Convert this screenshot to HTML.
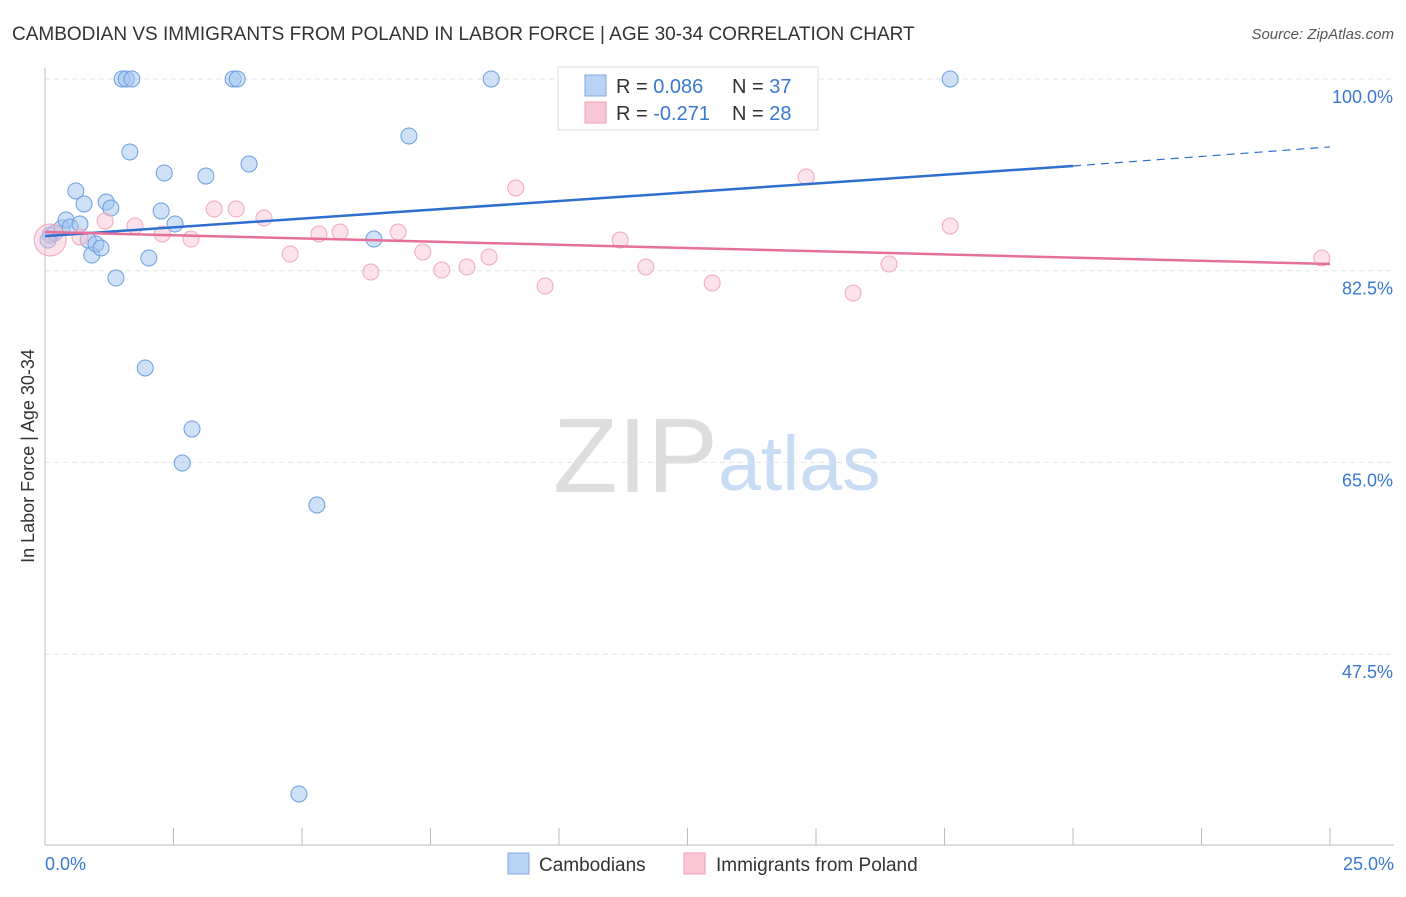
<!DOCTYPE html>
<html><head><meta charset="utf-8"><style>
body{margin:0;background:#fff;font-family:"Liberation Sans",sans-serif;}
svg text{font-family:"Liberation Sans",sans-serif;}
</style></head><body>
<svg id="c" width="1406" height="892" xmlns="http://www.w3.org/2000/svg">
<text x="12" y="40" font-size="19" fill="#333">CAMBODIAN VS IMMIGRANTS FROM POLAND IN LABOR FORCE | AGE 30-34 CORRELATION CHART</text>
<text x="1394" y="39" font-size="15" fill="#555" font-style="italic" text-anchor="end">Source: ZipAtlas.com</text>
<text x="34" y="456" font-size="18" fill="#333" text-anchor="middle" transform="rotate(-90 34 456)">In Labor Force | Age 30-34</text>
<text x="553" y="492" font-size="106" fill="#ddd" font-family="Liberation Serif">ZIP</text>
<text x="718" y="490" font-size="77" fill="#c8dcf3">atlas</text>
<g id="grid"></g><g id="axes"></g><g id="pts"></g><g id="trend"></g>
<g>
<rect x="558" y="67" width="260" height="63" fill="#fff" stroke="#ddd"/>
<rect x="585" y="75" width="21" height="21" fill="#b8d3f3" stroke="#7fa8df"/>
<rect x="585" y="102" width="21" height="21" fill="#f9c6d5" stroke="#ee9db6"/>
<text x="616" y="93" font-size="20" fill="#333">R = <tspan fill="#3a78d4">0.086</tspan></text>
<text x="732" y="93" font-size="20" fill="#333">N = <tspan fill="#3a78d4">37</tspan></text>
<text x="616" y="120" font-size="20" fill="#333">R = <tspan fill="#3a78d4">-0.271</tspan></text>
<text x="732" y="120" font-size="20" fill="#333">N = <tspan fill="#3a78d4">28</tspan></text>
</g>
<g>
<rect x="508" y="853" width="21" height="21" fill="#b8d3f3" stroke="#7fa8df"/>
<text x="539" y="871" font-size="19" fill="#333">Cambodians</text>
<rect x="684" y="853" width="21" height="21" fill="#f9c6d5" stroke="#ee9db6"/>
<text x="716" y="871" font-size="19" fill="#333">Immigrants from Poland</text>
</g>
</svg>
<script>
const yTicks=[100,82.5,65,47.5];
const yTickLabels=["100.0%","82.5%","65.0%","47.5%"];
const xTickLabels=["0.0%","25.0%"];
const blueX=[0.10,0.19,0.33,0.41,0.49,0.60,0.68,0.76,0.84,0.91,0.99,1.09,1.19,1.28,1.38,1.50,1.58,1.69,1.65,1.95,2.02,2.26,2.32,2.53,2.67,2.86,3.13,3.66,3.74,3.97,4.94,5.29,6.40,7.08,8.68,17.61,0.06];
const blueY=[85.76,85.94,86.40,87.13,86.49,89.78,86.76,88.59,85.30,83.93,84.94,84.57,88.77,88.22,81.83,100,100,100,93.34,73.62,83.66,87.95,91.42,86.76,64.94,68.05,91.14,100,100,92.24,34.73,61.11,85.39,94.80,100,100,85.30];
const pinkX=[0.10,0.68,1.17,1.75,2.28,2.84,3.29,3.72,4.26,4.77,5.33,5.74,6.34,6.87,7.35,7.72,8.21,8.64,9.16,9.73,11.19,11.69,12.98,14.81,15.72,16.42,17.61,24.84];
const pinkY=[85.30,85.58,87.04,86.58,85.85,85.39,88.13,88.13,87.31,84.02,85.85,86.03,82.38,86.03,84.21,82.56,82.84,83.75,90.05,81.10,85.30,82.84,81.38,91.05,80.46,83.11,86.58,83.66];
const blueTrend=[85.66,92.06,93.8];
const pinkTrend=[86.03,83.11];
const X=v=>45+v*51.4, Y=v=>79+(100-v)*10.954;
const NS="http://www.w3.org/2000/svg";
function mk(t,a,p){const e=document.createElementNS(NS,t);for(const k in a)e.setAttribute(k,a[k]);document.getElementById(p).appendChild(e);return e;}
yTicks.forEach((t,i)=>{
 const l=mk('line',{x1:45,x2:1394,y1:Y(t),y2:Y(t),stroke:'#e2e2e2','stroke-dasharray':'5,4'},'grid');
 
 
 const tx=mk('text',{x:1393,y:Y(t)+24,'font-size':18,fill:'#3a78d4','text-anchor':'end'},'grid');
 tx.textContent=yTickLabels[i];
 
 
});
let a=mk('line',{x1:45,x2:45,y1:68,y2:845,stroke:'#bbb'},'axes');


a=mk('line',{x1:45,x2:1394,y1:845,y2:845,stroke:'#bbb'},'axes');


for(let i=1;i<=10;i++){const t=mk('line',{x1:X(i*2.5),x2:X(i*2.5),y1:828,y2:845,stroke:'#bbb'},'axes');
 
 }
[[0,'start',45],[25,'end',1394]].forEach((d,i)=>{const t=mk('text',{x:d[2],y:870,'font-size':18,fill:'#3a78d4','text-anchor':d[1]},'axes');t.textContent=xTickLabels[i];
 
 });
blueX.forEach((x,i)=>{const c=mk('circle',{cx:X(x),cy:Y(blueY[i]),r:8,fill:'rgba(160,196,240,0.5)',stroke:'#6a9fe0','stroke-width':1},'pts');
 
 });
pinkX.forEach((x,i)=>{const c=mk('circle',{cx:X(x),cy:Y(pinkY[i]),r:i==0?16:8,fill:'rgba(248,190,208,0.45)',stroke:'#f0a8be','stroke-width':1},'pts');
 
 });
let t=mk('line',{x1:X(0),y1:Y(blueTrend[0]),x2:X(20),y2:Y(blueTrend[1]),stroke:'#2e6fd0','stroke-width':2.5},'trend');


t=mk('line',{x1:X(20),y1:Y(blueTrend[1]),x2:X(25),y2:Y(blueTrend[2]),stroke:'#2e6fd0','stroke-width':1.2,'stroke-dasharray':'8,6'},'trend');


t=mk('line',{x1:X(0),y1:Y(pinkTrend[0]),x2:X(25),y2:Y(pinkTrend[1]),stroke:'#e7709a','stroke-width':2.5},'trend');


</script>
</body></html>
